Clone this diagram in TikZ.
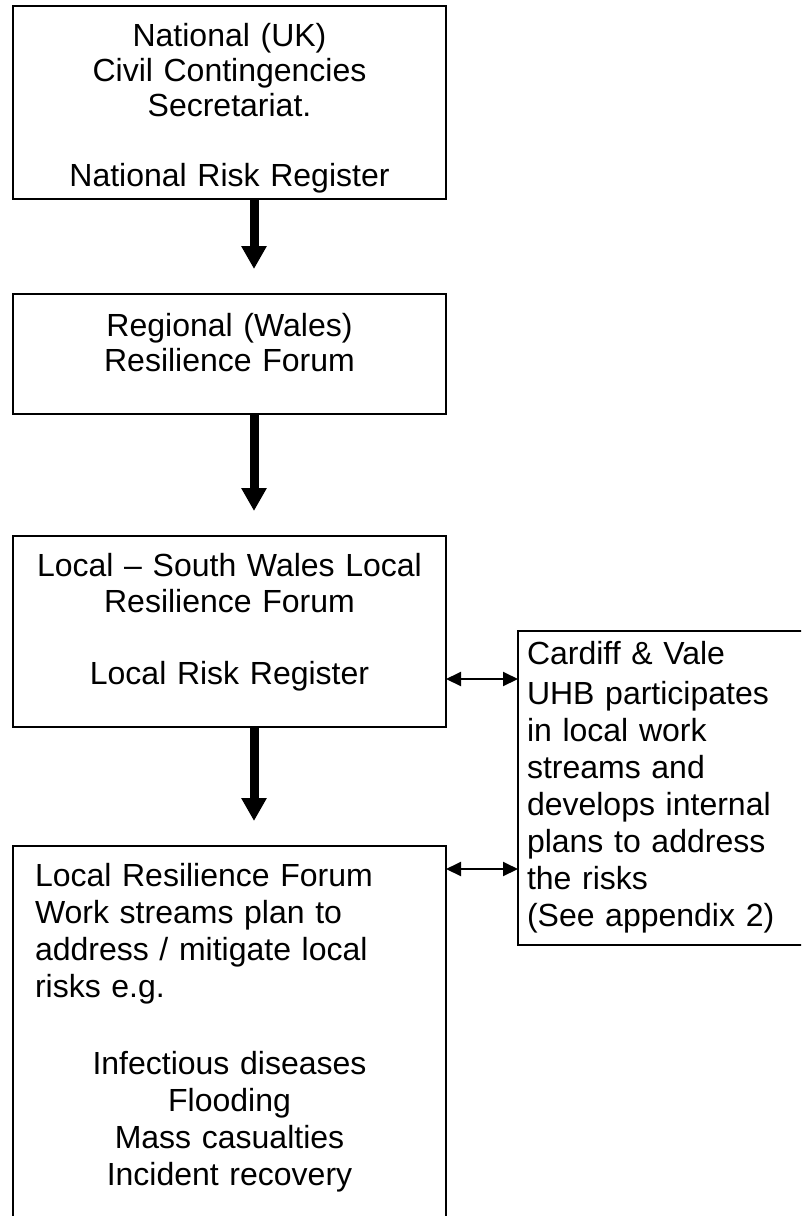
\documentclass[tikz,border=0pt]{standalone}
\usepackage{fontspec}
\setmainfont{Liberation Sans}
\usetikzlibrary{arrows.meta}
\tikzset{
  boxshape/.style={draw, line width=2pt, inner sep=0pt, outer sep=0pt, anchor=north west},
  txt/.style={inner sep=0pt, outer sep=0pt},
  bigarrow/.style={line width=9pt, -{Triangle[length=23pt,width=24pt]}, shorten >=25pt},
  duoarrow/.style={line width=2pt, {Triangle[length=15pt,width=14pt]}-{Triangle[length=15pt,width=14pt]}},
}
\begin{document}
\begin{tikzpicture}[x=1pt,y=-1pt]
\useasboundingbox (0,0) rectangle (801,1216);
\clip (0,0) rectangle (801,1216);
% boxes
\node[boxshape, minimum width=433pt, minimum height=193pt] (b1) at (13,6) {};
\node[boxshape, minimum width=433pt, minimum height=120pt] (b2) at (13,294) {};
\node[boxshape, minimum width=433pt, minimum height=191pt] (b3) at (13,536) {};
\node[boxshape, minimum width=433pt, minimum height=390pt] (b4) at (13,846) {};
\node[boxshape, minimum width=300pt, minimum height=314pt] (b5) at (518,631) {};
% texts
\node[txt, text width=433pt, align=center, anchor=base, font=\fontsize{32}{35}\selectfont] (t1) at (229.5,46)
  {National (UK)\\Civil Contingencies\\Secretariat.\\[35pt]National Risk Register};
\node[txt, text width=433pt, align=center, anchor=base, font=\fontsize{32}{35}\selectfont] (t2) at (229.5,336)
  {Regional (Wales)\\Resilience Forum};
\node[txt, text width=433pt, align=center, anchor=base, font=\fontsize{32}{36}\selectfont] (t3) at (229.5,576)
  {Local – South Wales Local\\Resilience Forum\\[36pt]Local Risk Register};
\node[txt, text width=400pt, align=left, anchor=base west, font=\fontsize{32}{37}\selectfont] (t4a) at (35,886)
  {Local Resilience Forum\\Work streams plan to\\address / mitigate local\\risks e.g.};
\node[txt, text width=433pt, align=center, anchor=base, font=\fontsize{32}{37}\selectfont] (t4b) at (229.5,1074)
  {Infectious diseases\\Flooding\\Mass casualties\\Incident recovery};
\node[txt, text width=280pt, align=left, anchor=base west, font=\fontsize{32}{37}\selectfont] (t5) at (527,664)
  {Cardiff \& Vale\\[3pt]UHB participates\\in local work\\streams and\\develops internal\\plans to address\\the risks\\(See appendix 2)};
% connectors
\coordinate (ax) at (254,0);
\coordinate (ya) at (0,679);
\coordinate (yb) at (0,869);
\draw[bigarrow] (b1.south -| ax) -- (b2.north -| ax);
\draw[bigarrow] (b2.south -| ax) -- (b3.north -| ax);
\draw[bigarrow] (b3.south -| ax) -- (b4.north -| ax);
\draw[duoarrow] (b3.east |- ya) -- (b5.west |- ya);
\draw[duoarrow] (b4.east |- yb) -- (b5.west |- yb);
\end{tikzpicture}
\end{document}
